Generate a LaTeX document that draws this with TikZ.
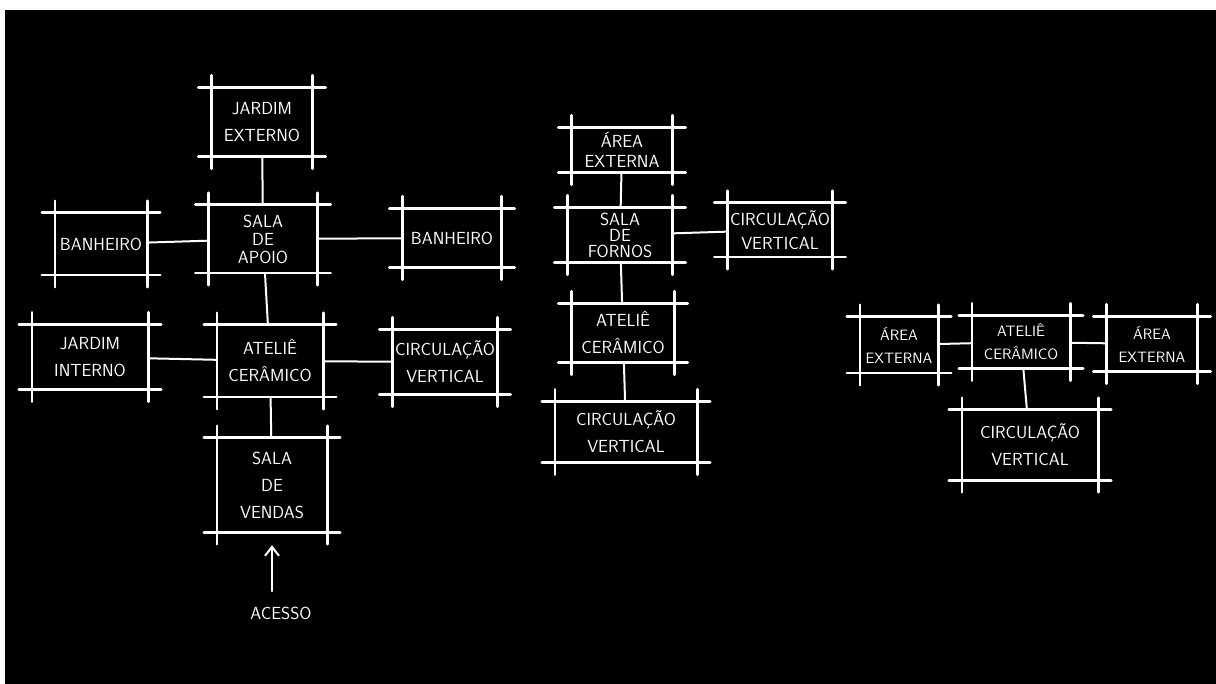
\documentclass[tikz,border=0pt]{standalone}
\usepackage{tikz}
\usetikzlibrary{arrows.meta}

\tikzset{
	room/.style 2 args={draw=none, text=white, align=center, inner sep=0pt,
		minimum width=#1, minimum height=#2,
		font=\sffamily\fontsize{17.5}{27}\selectfont},
	smallroom/.style={font=\sffamily\fontsize{15}{23}\selectfont},
	sketch/.style={white, line width=2.6pt, line cap=round},
	link/.style={white, line width=2pt, line cap=round},
}

\begin{document}
\begin{tikzpicture}[x=1pt, y=-1pt, >={Straight Barb[length=9pt,width=14pt]}]
	\newcommand{\overX}{13}
	\newcommand{\overY}{12}

	% paper
	\fill[white] (0,0) rectangle (1216,684);
	\fill[black] (5,10) rectangle (1216,684);

	% first scheme
	\node[room={101}{69}] (jardim_ext) at (262,122) {JARDIM\\EXTERNO};
	\node[room={109}{68}] (sala_apoio) at (263,239) {SALA\\[-9pt]DE\\[-9pt]APOIO};
	\node[room={92}{62}] (banheiro_a) at (101,244) {BANHEIRO};
	\node[room={99}{59}] (banheiro_b) at (452,238) {BANHEIRO};
	\node[room={116}{65}] (jardim_int) at (90,357) {JARDIM\\INTERNO};
	\node[room={106}{72}] (atelie_a) at (270,361) {ATELIÊ\\CERÂMICO};
	\node[room={105}{65}] (circ_a) at (445,362) {CIRCULAÇÃO\\VERTICAL};
	\node[room={110}{94}] (vendas) at (272,485) {SALA\\DE\\VENDAS};
	\node[text=white, font=\sffamily\fontsize{17.5}{20}\selectfont] (acesso) at (281,613) {ACESSO};

	% second scheme
	\node[room={101}{45}] (area_b) at (622,150) {ÁREA\\[-7pt]EXTERNA};
	\node[room={105}{55}] (fornos) at (620,235) {SALA\\[-11pt]DE\\[-11pt]FORNOS};
	\node[room={105}{54}] (circ_b) at (780,230) {CIRCULAÇÃO\\[-3pt]VERTICAL};
	\node[room={103}{59}] (atelie_b) at (623,333) {ATELIÊ\\CERÂMICO};
	\node[room={142}{61}] (circ_c) at (626,432) {CIRCULAÇÃO\\VERTICAL};

	% third scheme
	\node[room={78}{56}, smallroom] (area_c) at (899,345) {ÁREA\\EXTERNA};
	\node[room={98}{53}, smallroom] (atelie_c) at (1021,342) {ATELIÊ\\CERÂMICO};
	\node[room={91}{55}, smallroom] (area_d) at (1152,344) {ÁREA\\EXTERNA};
	\node[room={136}{70}] (circ_d) at (1030,445) {CIRCULAÇÃO\\VERTICAL};

	% draw boxes with crossing corners
	\foreach \n in {jardim_ext,sala_apoio,banheiro_a,banheiro_b,jardim_int,
		atelie_a,circ_a,vendas,area_b,fornos,circ_b,atelie_b,circ_c,
		area_c,atelie_c,area_d,circ_d}{
		\draw[sketch] ([xshift=-\overX]\n.north west) -- ([xshift=\overX]\n.north east);
		\draw[sketch] ([xshift=-\overX]\n.south west) -- ([xshift=\overX]\n.south east);
		\draw[sketch] ([yshift=\overY]\n.north west) -- ([yshift=-\overY]\n.south west);
		\draw[sketch] ([yshift=\overY]\n.north east) -- ([yshift=-\overY]\n.south east);
	}

	% links
	\draw[link] (jardim_ext) -- (sala_apoio);
	\draw[link] (banheiro_a) -- (sala_apoio);
	\draw[link] (sala_apoio) -- (banheiro_b);
	\draw[link] (sala_apoio) -- (atelie_a);
	\draw[link] (jardim_int) -- (atelie_a);
	\draw[link] (atelie_a) -- (circ_a);
	\draw[link] (atelie_a) -- (vendas);
	\draw[link,->] ([yshift=12pt]acesso.north -| vendas.south) -- ([yshift=-13pt]vendas.south);

	\draw[link] (area_b) -- (fornos);
	\draw[link] (fornos) -- (circ_b);
	\draw[link] (fornos) -- (atelie_b);
	\draw[link] (atelie_b) -- (circ_c);

	\draw[link] (area_c) -- (atelie_c);
	\draw[link] (atelie_c) -- (area_d);
	\draw[link] (atelie_c) -- (circ_d);
\end{tikzpicture}
\end{document}
